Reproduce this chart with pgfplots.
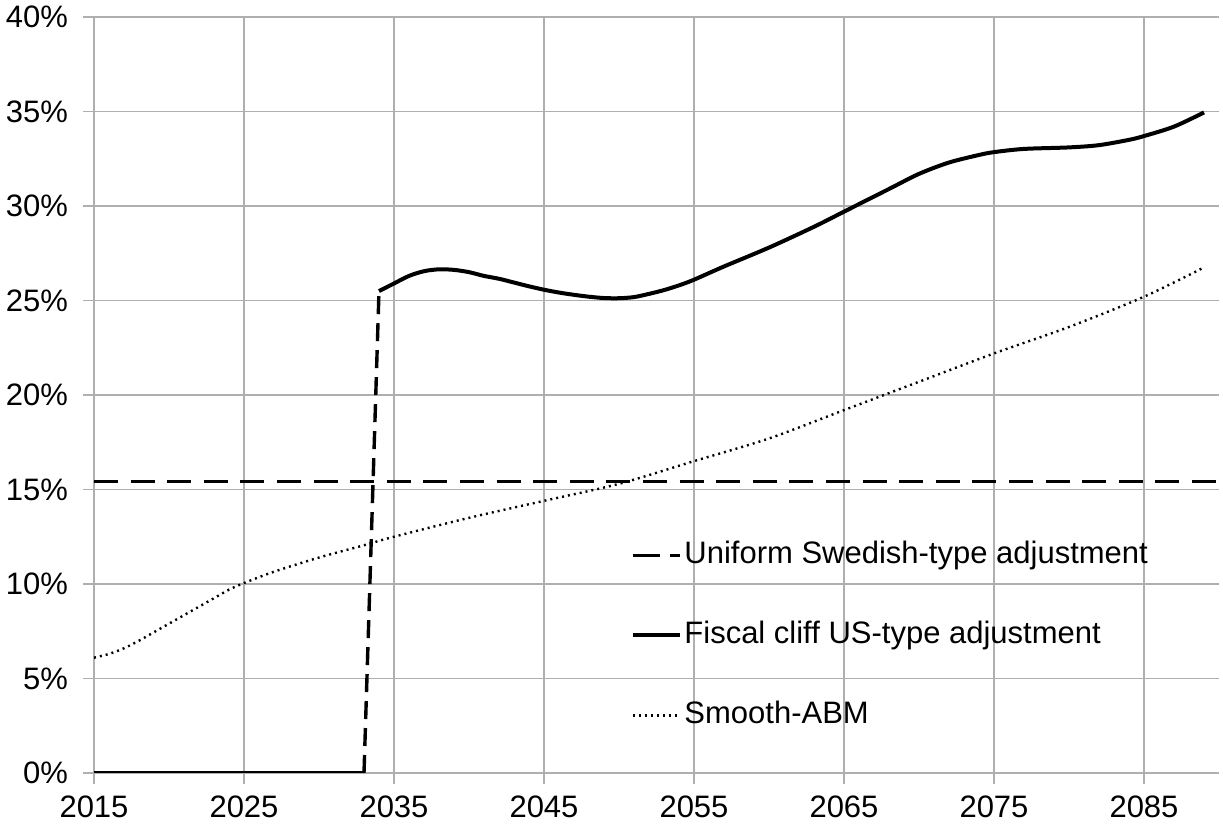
\documentclass[border=0pt]{standalone}
\usepackage{fontspec}
\setmainfont{Liberation Sans}
\usepackage{pgfplots}
\pgfplotsset{compat=1.18}
\definecolor{gridgray}{RGB}{175,175,175}
\begin{document}
\begin{tikzpicture}
\begin{axis}[
  scale only axis,
  width=562.5pt, height=378pt,
  xmin=2015, xmax=2090,
  ymin=0, ymax=40,
  xtick={2015,2025,...,2085},
  ytick={0,5,...,40},
  /pgf/number format/assume math mode=true,
  /pgf/number format/1000 sep={},
  yticklabel={\pgfmathprintnumber{\tick}\%},
  axis line style={draw=none},
  grid=major,
  major grid style={gridgray, line width=0.8pt},
  tick style={gridgray, line width=0.8pt},
  major tick length=5.5pt,
  tick align=outside,
  xtick pos=bottom, ytick pos=left,
  tick label style={font=\fontsize{15.5}{18}\selectfont},
  yticklabel style={xshift=-4pt},
  xticklabel style={yshift=-2.5pt},
  legend style={draw=none, fill=none, at={(rel axis cs:0.477,0.307)}, anchor=north west,
    inner sep=0pt, font=\fontsize{15.5}{18}\selectfont, row sep=26pt, column sep=0pt,
    nodes={inner xsep=1.2pt, inner ysep=0pt, text height=11pt, text depth=3pt},
    cells={anchor=west}},
  legend image code/.code={\draw[#1] (0pt,0pt) -- (23.5pt,0pt);},
]
\coordinate (O) at (rel axis cs:0,0);
\coordinate (T) at (rel axis cs:1,1);
\addplot[black, line width=1.8pt, dash pattern=on 12pt off 6.3pt, forget plot] coordinates {(2015,15.43) (2090,15.43)};
\addlegendimage{black, line width=1.8pt, dash pattern=on 13.5pt off 5pt}
\addlegendentry{Uniform Swedish-type adjustment}
\addplot[black, line width=2pt, smooth] coordinates {
(2034,25.5) (2035,25.9) (2036,26.3) (2037,26.55) (2038,26.65) (2039,26.62) (2040,26.5)
(2041,26.3) (2042,26.15) (2043,25.95) (2044,25.75) (2045,25.57) (2046,25.42) (2047,25.3)
(2048,25.2) (2049,25.13) (2050,25.12) (2051,25.18) (2052,25.35) (2053,25.55) (2054,25.8)
(2055,26.1) (2057,26.8) (2060,27.8) (2063,28.9) (2065,29.7) (2068,30.9) (2070,31.7)
(2072,32.3) (2074,32.7) (2075,32.85) (2077,33.02) (2080,33.1) (2082,33.22) (2084,33.5)
(2085,33.7) (2087,34.2) (2089,34.95)};
\addlegendentry{Fiscal cliff US-type adjustment}
\addplot[black, line width=1.2pt, dash pattern=on 1pt off 2pt, smooth] coordinates {
(2015,6.1) (2016,6.3) (2017,6.6) (2018,7.0) (2019,7.45) (2020,7.9) (2021,8.35) (2022,8.8)
(2023,9.25) (2024,9.7) (2025,10.05) (2027,10.65) (2030,11.4) (2033,12.05) (2035,12.5)
(2040,13.5) (2045,14.4) (2050,15.3) (2055,16.5) (2060,17.7) (2065,19.2) (2070,20.7)
(2075,22.2) (2080,23.6) (2085,25.2) (2089,26.75)};
\addlegendentry{Smooth-ABM}
\addplot[black, line width=2pt, forget plot] coordinates {(2015,0) (2033,0)};
\addplot[black, line width=1.7pt, dash pattern=on 9pt off 4.5pt, forget plot] coordinates {(2033,0) (2034,25.5)};
\end{axis}
\pgfresetboundingbox
\path[use as bounding box] ([shift={(-47pt,-26pt)}]O) rectangle ([shift={(2pt,8.5pt)}]T);
\end{tikzpicture}
\end{document}
